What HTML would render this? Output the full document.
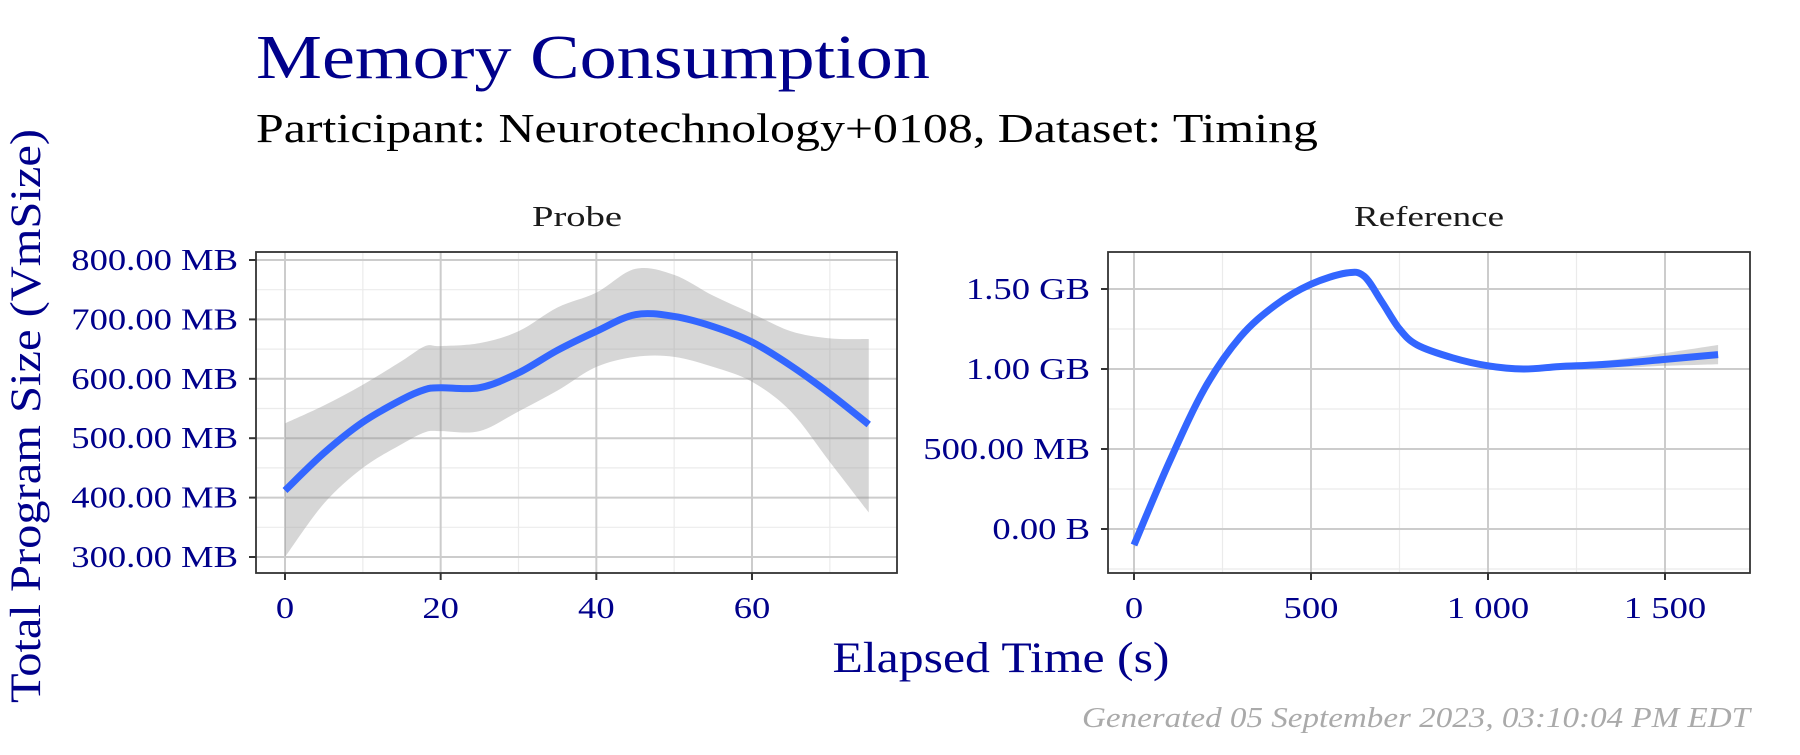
<!DOCTYPE html>
<html><head><meta charset="utf-8"><style>
body{margin:0;background:#fff;}
svg text{font-family:"Liberation Serif",serif;}
</style></head><body>
<svg id="c" width="1800" height="750" xmlns="http://www.w3.org/2000/svg">
<text x="256" y="78" font-size="62" fill="#00008B" textLength="674" lengthAdjust="spacingAndGlyphs">Memory Consumption</text>
<text x="256" y="142" font-size="41" fill="#000" textLength="1062" lengthAdjust="spacingAndGlyphs">Participant: Neurotechnology+0108, Dataset: Timing</text>
<text x="577" y="226" font-size="29" text-anchor="middle" fill="#1a1a1a" textLength="90" lengthAdjust="spacingAndGlyphs">Probe</text>
<text x="1429" y="226" font-size="29" text-anchor="middle" fill="#1a1a1a" textLength="150" lengthAdjust="spacingAndGlyphs">Reference</text>
<text transform="translate(40,416) rotate(-90)" font-size="43" text-anchor="middle" fill="#00008B" textLength="574" lengthAdjust="spacingAndGlyphs">Total Program Size (VmSize)</text>
<text x="1001" y="672" font-size="43" text-anchor="middle" fill="#00008B" textLength="337" lengthAdjust="spacingAndGlyphs">Elapsed Time (s)</text>
<text x="1750" y="727" font-size="29" text-anchor="end" font-style="italic" fill="#aaa" textLength="668" lengthAdjust="spacingAndGlyphs">Generated 05 September 2023, 03:10:04 PM EDT</text>
<g id="pl"></g><g id="pr"></g>
</svg>
<script>
const probeX=[0,5,10,15,18,20,25,30,35,40,45,50,55,60,65,70,75];
const probeMean=[412,475,527,565,582,585,585,610,648,680,708,705,688,662,622,575,523];
const probeLo=[300,390,450,490,510,512,512,545,580,620,637,637,620,595,545,460,375];
const probeHi=[525,555,590,630,655,655,660,680,720,745,785,775,740,710,680,668,667];
const probeYTicks=[300,400,500,600,700,800];
const probeYLabels=["300.00 MB","400.00 MB","500.00 MB","600.00 MB","700.00 MB","800.00 MB"];
const probeXTicks=[0,20,40,60];
const refX=[0,100,200,300,400,500,600,650,700,750,800,900,1000,1100,1200,1300,1400,1500,1650];
const refMean=[-0.1,0.42,0.88,1.2,1.4,1.53,1.6,1.58,1.42,1.25,1.15,1.07,1.02,1.0,1.015,1.025,1.04,1.06,1.09];
const refErr=[0.03,0.02,0.02,0.02,0.02,0.02,0.02,0.02,0.02,0.02,0.02,0.02,0.02,0.02,0.02,0.02,0.03,0.04,0.06];
const refYTicks=[0,0.5,1.0,1.5];
const refYLabels=["0.00 B","500.00 MB","1.00 GB","1.50 GB"];
const refXTicks=[0,500,1000,1500];
const refXLabels=["0","500","1 000","1 500"];
const NS="http://www.w3.org/2000/svg";
function mk(p,t,a){const e=document.createElementNS(NS,t);for(const k in a)e.setAttribute(k,a[k]);p.appendChild(e);return e;}
function widen(t){const w=t.getComputedTextLength();t.setAttribute("textLength",w*1.18);t.setAttribute("lengthAdjust","spacingAndGlyphs");}
function smooth(pts){let d="M"+pts[0][0]+","+pts[0][1];for(let i=0;i<pts.length-1;i++){const p0=pts[i-1]||pts[i],p1=pts[i],p2=pts[i+1],p3=pts[i+2]||p2;
d+=" C"+(p1[0]+(p2[0]-p0[0])/6)+","+(p1[1]+(p2[1]-p0[1])/6)+" "+(p2[0]-(p3[0]-p1[0])/6)+","+(p2[1]-(p3[1]-p1[1])/6)+" "+p2[0]+","+p2[1];}return d;}
function panel(g,name,L,R,T,B,xd,yd,xs,ys,lo,hi,xt,xl,yt,yl){
 const sx=v=>L+(v-xd[0])/(xd[1]-xd[0])*(R-L), sy=v=>B-(v-yd[0])/(yd[1]-yd[0])*(B-T);
 const bg=mk(g,"rect",{x:L,y:T,width:R-L,height:B-T,fill:"#fff"});
 
 
 const dx=xt[1]-xt[0],dy=yt[1]-yt[0];
 for(let v=xt[0]-dx/2;v<=xd[1];v+=dx){if(v<xd[0])continue;const x=sx(v);mk(g,"line",{x1:x,x2:x,y1:T,y2:B,stroke:"#ebebeb","stroke-width":1.2});}
 for(let v=yt[0]-dy/2;v<=yd[1];v+=dy){if(v<yd[0])continue;const y=sy(v);mk(g,"line",{x1:L,x2:R,y1:y,y2:y,stroke:"#ebebeb","stroke-width":1.2});}
 xt.forEach((v,i)=>{const x=sx(v);mk(g,"line",{x1:x,x2:x,y1:T,y2:B,stroke:"#cccccc","stroke-width":2});mk(g,"line",{x1:x,x2:x,y1:B,y2:B+7,stroke:"#333","stroke-width":2});
  const t=mk(g,"text",{x:x,y:B+45,"font-size":31,"text-anchor":"middle",fill:"#00008B"});t.textContent=xl[i];widen(t);
  
  });
 yt.forEach((v,i)=>{const y=sy(v);mk(g,"line",{x1:L,x2:R,y1:y,y2:y,stroke:"#cccccc","stroke-width":2});mk(g,"line",{x1:L-7,x2:L,y1:y,y2:y,stroke:"#333","stroke-width":2});
  const t=mk(g,"text",{x:L-18,y:y+10,"font-size":31,"text-anchor":"end",fill:"#00008B"});t.textContent=yl[i];widen(t);
  
  });
 const up=xs.map((v,i)=>[sx(v),sy(hi[i])]),dn=xs.map((v,i)=>[sx(v),sy(lo[i])]).reverse();
 const bd=smooth(up)+" L"+dn[0][0]+","+dn[0][1]+smooth(dn).replace(/^M[^ ]+/,"")+" Z";
 const band=mk(g,"path",{d:bd,fill:"#999",opacity:0.4});
 
 
 const ln=mk(g,"path",{d:smooth(xs.map((v,i)=>[sx(v),sy(ys[i])])),fill:"none",stroke:"#3366FF","stroke-width":7});
 
 
 const br=mk(g,"rect",{x:L,y:T,width:R-L,height:B-T,fill:"none",stroke:"#333","stroke-width":1.8});
 
 
}
const pl=document.getElementById("pl"),pr=document.getElementById("pr");




const lpx=(752-285)/60, lpy=(557-260)/500;
panel(pl,"probe",256,897,252,573,[-(285-256)/lpx,60+(897-752)/lpx],[300-(573-557)/lpy,800+(260-252)/lpy],
 probeX,probeMean,probeLo,probeHi,probeXTicks,probeXTicks.map(String),probeYTicks,probeYLabels);
const rpx=(1665-1134)/1500, rpy=(529-289)/1.5;
panel(pr,"reference",1108,1750,252,573,[-(1134-1108)/rpx,1500+(1750-1665)/rpx],[-(573-529)/rpy,1.5+(289-252)/rpy],
 refX,refMean,refMean.map((v,i)=>v-refErr[i]),refMean.map((v,i)=>v+refErr[i]),refXTicks,refXLabels,refYTicks,refYLabels);
</script>
</body></html>
